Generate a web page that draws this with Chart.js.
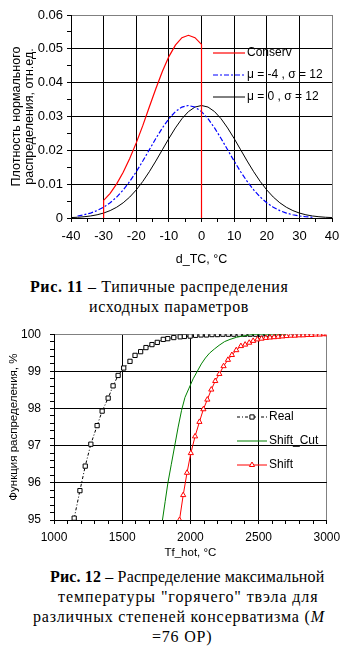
<!DOCTYPE html>
<html><head><meta charset="utf-8">
<script src="https://cdn.jsdelivr.net/npm/chart.js@4/dist/chart.umd.min.js"></script>
<style>
html,body{margin:0;padding:0;background:#fff;}
body{width:347px;height:648px;position:relative;overflow:hidden;}
canvas{position:absolute;left:0;}
.cap{position:absolute;font-family:'Liberation Serif','Times New Roman',serif;font-size:16px;line-height:20px;white-space:nowrap;color:#000;}
</style></head><body>
<canvas id="c1" width="347" height="272" style="top:0"></canvas>
<canvas id="c2" width="347" height="245" style="top:318px"></canvas>
<div class="cap" style="left:30px;top:277px;letter-spacing:0.6px"><b>Рис. 11</b> – Типичные распределения</div>
<div class="cap" style="left:89px;top:297px;letter-spacing:0.6px">исходных параметров</div>
<div class="cap" style="left:50px;top:567px;letter-spacing:0.15px"><b>Рис. 12</b> – Распределение максимальной</div>
<div class="cap" style="left:58px;top:587px;letter-spacing:0.9px">температуры "горячего" твэла для</div>
<div class="cap" style="left:33px;top:607px;letter-spacing:0.8px">различных степеней консерватизма (<i>M</i></div>
<div class="cap" style="left:152px;top:627px;letter-spacing:0.8px">=76 ОР)</div>
<script>
// ---------- Fig. 11 data ----------
const dtcMajorTicks = [-40, -30, -20, -10, 0, 10, 20, 30, 40];
const densityMajorTicks = [0, 0.01, 0.02, 0.03, 0.04, 0.05, 0.06];
const fig11Labels = ['Conserv', 'μ = -4 , σ = 12', 'μ = 0 , σ = 12'];

const conservX = [-30, -30, -28, -26, -24, -22, -20, -18, -16, -14, -12, -10, -8, -6, -4, -2, 0, 0];
const conservY = [0, 0.0052, 0.0073, 0.0101, 0.0135, 0.0176, 0.0222, 0.0273, 0.0328, 0.0382, 0.0433, 0.0477, 0.0511, 0.0533, 0.0540, 0.0533, 0.0513, 0];

const muM4X = [-38, -36, -34, -32, -30, -28, -26, -24, -22, -20, -18, -16, -14, -12, -10, -8, -6, -4, -2, 0, 2, 4, 6, 8, 10, 12, 14, 16, 18, 20, 22, 24, 26, 28, 30, 32, 34];
const muM4Y = [0.0006, 0.00095, 0.00146, 0.00219, 0.00318, 0.0045, 0.00619, 0.00829, 0.0108, 0.01367, 0.01683, 0.02017, 0.0235, 0.02662, 0.02934, 0.03145, 0.03279, 0.03325, 0.03279, 0.03145, 0.02934, 0.02662, 0.0235, 0.02017, 0.01683, 0.01367, 0.0108, 0.00829, 0.00619, 0.0045, 0.00318, 0.00219, 0.00146, 0.00095, 0.0006, 0.00037, 0.00022];

const mu0X = [-40, -38, -36, -34, -32, -30, -28, -26, -24, -22, -20, -18, -16, -14, -12, -10, -8, -6, -4, -2, 0, 2, 4, 6, 8, 10, 12, 14, 16, 18, 20, 22, 24, 26, 28, 30, 32, 34, 36, 38, 40];
const mu0Y = [0.00013, 0.00022, 0.00037, 0.0006, 0.00095, 0.00146, 0.00219, 0.00318, 0.0045, 0.00619, 0.00829, 0.0108, 0.01367, 0.01683, 0.02017, 0.0235, 0.02662, 0.02934, 0.03145, 0.03279, 0.03325, 0.03279, 0.03145, 0.02934, 0.02662, 0.0235, 0.02017, 0.01683, 0.01367, 0.0108, 0.00829, 0.00619, 0.0045, 0.00318, 0.00219, 0.00146, 0.00095, 0.0006, 0.00037, 0.00022, 0.00013];

// ---------- Fig. 12 data ----------
const tfMajorTicks = [1000, 1500, 2000, 2500, 3000];
const cdfMajorTicks = [95, 96, 97, 98, 99, 100];
const fig12Labels = ['Real', 'Shift_Cut', 'Shift'];

const realX = [1148, 1190, 1229, 1270, 1316, 1353, 1397, 1433, 1470, 1511, 1557, 1594, 1635, 1674, 1718, 1757, 1801, 1834, 1878, 1925, 1956, 1998, 2038, 2078, 2118, 2158, 2198, 2238, 2278, 2318, 2358, 2398, 2438, 2478, 2518, 2558, 2598, 2638, 2678, 2718];
const realY = [95.05, 95.79, 96.45, 97.04, 97.54, 97.93, 98.28, 98.61, 98.89, 99.09, 99.27, 99.43, 99.53, 99.64, 99.72, 99.78, 99.86, 99.88, 99.91, 99.93, 99.94, 99.95, 99.97, 99.98, 99.98, 99.99, 99.99, 100, 100, 100, 100, 100, 100, 100, 100, 100, 100, 100, 100, 100];

const shiftCutX = [1795, 1815, 1835, 1860, 1885, 1910, 1935, 1960, 1990, 2020, 2050, 2080, 2110, 2140, 2175, 2210, 2250, 2290, 2340, 2400, 2450, 2500, 2600, 2700];
const shiftCutY = [95.0, 95.5, 96.0, 96.5, 97.0, 97.5, 97.95, 98.3, 98.55, 98.8, 99.0, 99.2, 99.36, 99.49, 99.6, 99.7, 99.8, 99.86, 99.92, 99.96, 99.99, 100, 100, 100];

const shiftX = [1920, 1947, 1975, 2003, 2034, 2066, 2095, 2124, 2153, 2182, 2212, 2243, 2275, 2304, 2336, 2370, 2401, 2431, 2460, 2491, 2521, 2553, 2583, 2613, 2643, 2674, 2704, 2735, 2765, 2796, 2826, 2856, 2887, 2917, 2948, 2978, 3000];
const shiftY = [95.0, 95.67, 96.27, 96.8, 97.25, 97.64, 97.98, 98.24, 98.51, 98.74, 98.93, 99.14, 99.31, 99.44, 99.57, 99.68, 99.72, 99.77, 99.82, 99.86, 99.88, 99.9, 99.91, 99.92, 99.93, 99.94, 99.95, 99.96, 99.96, 99.97, 99.97, 99.98, 99.98, 99.99, 99.99, 100, 100];

// ---------- helpers ----------
const SANS = "'Liberation Sans',Arial,sans-serif";
function pts(xs, ys) { return xs.map((x, i) => ({x: x, y: ys[i]})); }
function isMajor(v, list) { return list.some(m => Math.abs(m - v) < 1e-7); }
function gridColor(list, max) {
  return (c) => {
    const v = c.tick ? c.tick.value : undefined;
    if (v === undefined) return '#000';
    if (Math.abs(v - max) < 1e-7) return '#808080';
    return isMajor(v, list) ? '#000' : 'rgba(0,0,0,0)';
  };
}

const insideLegend = {
  id: 'insideLegend',
  afterDatasetsDraw(chart, args, o) {
    const ctx = chart.ctx;
    ctx.save();
    chart.data.datasets.forEach((ds, i) => {
      const y = o.rows[i];
      ctx.strokeStyle = ds.borderColor;
      ctx.lineWidth = ds.borderWidth || 1;
      ctx.setLineDash(ds.borderDash || []);
      ctx.beginPath(); ctx.moveTo(o.x0, y); ctx.lineTo(o.x1, y); ctx.stroke();
      ctx.setLineDash([]);
      const r = ds.pointRadius || 0;
      if (r > 0) {
        const cx = (o.x0 + o.x1) / 2;
        ctx.fillStyle = ds.pointBackgroundColor || '#fff';
        ctx.strokeStyle = ds.pointBorderColor || ds.borderColor;
        ctx.lineWidth = 1;
        ctx.beginPath();
        if (ds.pointStyle === 'triangle') {
          ctx.moveTo(cx, y - r); ctx.lineTo(cx + r * 0.866, y + r / 2); ctx.lineTo(cx - r * 0.866, y + r / 2); ctx.closePath();
        } else {
          const s = r * 0.7071;
          ctx.rect(cx - s, y - s, 2 * s, 2 * s);
        }
        ctx.fill(); ctx.stroke();
      }
      ctx.fillStyle = '#000';
      ctx.font = o.fontSize + 'px ' + SANS;
      ctx.textBaseline = 'middle';
      ctx.textAlign = 'left';
      ctx.fillText(ds.label, o.tx, y);
    });
    ctx.restore();
  }
};

// ---------- Fig. 11 ----------
new Chart(document.getElementById('c1'), {
  type: 'line',
  plugins: [insideLegend],
  data: {
    datasets: [
      {label: fig11Labels[0], data: pts(conservX, conservY), borderColor: '#ff0000', borderWidth: 1.2, pointRadius: 0, tension: 0, fill: false},
      {label: fig11Labels[1], data: pts(muM4X, muM4Y), borderColor: '#0000ff', borderWidth: 1.2, borderDash: [5, 2, 2, 2], pointRadius: 0, tension: 0, fill: false},
      {label: fig11Labels[2], data: pts(mu0X, mu0Y), borderColor: '#000000', borderWidth: 1, pointRadius: 0, tension: 0, fill: false}
    ]
  },
  options: {
    responsive: false, animation: false, devicePixelRatio: 1, events: [],
    layout: {padding: {left: 0, top: 15, right: 15, bottom: 0}},
    plugins: {
      legend: {display: false}, tooltip: {enabled: false},
      insideLegend: {x0: 213, x1: 245, tx: 247, rows: [53, 75, 97], fontSize: 12}
    },
    scales: {
      x: {
        type: 'linear', min: -40, max: 40,
        ticks: {stepSize: 5, autoSkip: false, maxRotation: 0, maxTicksLimit: 1000, padding: 7, color: '#000',
          font: {family: SANS, size: 13},
          callback: (v) => isMajor(v, dtcMajorTicks) ? String(Math.round(v)) : ''},
        grid: {color: gridColor(dtcMajorTicks, 40), lineWidth: 1, tickColor: '#000', tickLength: 4},
        border: {display: true, color: '#000', width: 1},
        title: {display: true, text: 'd_TC, °C', color: '#000', font: {family: SANS, size: 12.5}, padding: {top: 0, bottom: 4.5}},
        afterFit: (s) => { s.height = 54; }
      },
      y: {
        type: 'linear', min: 0, max: 0.06,
        ticks: {stepSize: 0.005, autoSkip: false, maxTicksLimit: 1000, padding: 4, color: '#000',
          font: {family: SANS, size: 13},
          callback: (v) => isMajor(v, densityMajorTicks) ? (Math.abs(v) < 1e-9 ? '0' : v.toFixed(2)) : ''},
        grid: {color: gridColor(densityMajorTicks, 0.06), lineWidth: 1, tickColor: '#000', tickLength: 4},
        border: {display: true, color: '#000', width: 1},
        title: {display: true, text: ['Плотность нормального', 'распределения, отн.ед.'], color: '#000',
          font: {family: SANS, size: 12.5, lineHeight: 1.04}, padding: {top: 10.5, bottom: 0}},
        afterFit: (s) => { s.width = 71; }
      }
    }
  }
});

// ---------- Fig. 12 ----------
new Chart(document.getElementById('c2'), {
  type: 'line',
  plugins: [insideLegend],
  data: {
    datasets: [
      {label: fig12Labels[0], data: pts(realX, realY), borderColor: '#000000', borderWidth: 1, borderDash: [3, 2, 1, 2],
        pointStyle: 'rect', pointRadius: 3, pointBackgroundColor: '#ffffff', pointBorderColor: '#000000', pointBorderWidth: 1, tension: 0, fill: false, order: 2},
      {label: fig12Labels[1], data: pts(shiftCutX, shiftCutY), borderColor: '#008000', borderWidth: 1, pointRadius: 0, tension: 0, fill: false, order: 1},
      {label: fig12Labels[2], data: pts(shiftX, shiftY), borderColor: '#ff0000', borderWidth: 1,
        pointStyle: 'triangle', pointRadius: 3, pointBackgroundColor: '#ffffff', pointBorderColor: '#ff0000', pointBorderWidth: 1, tension: 0, fill: false, order: 0}
    ]
  },
  options: {
    responsive: false, animation: false, devicePixelRatio: 1, events: [],
    layout: {padding: {left: 0, top: 12, right: 19, bottom: 0}},
    plugins: {
      legend: {display: false}, tooltip: {enabled: false},
      insideLegend: {x0: 237, x1: 267, tx: 269, rows: [99, 123, 147], fontSize: 12}
    },
    scales: {
      x: {
        type: 'linear', min: 1000, max: 3000,
        ticks: {stepSize: 100, autoSkip: false, maxRotation: 0, maxTicksLimit: 1000, padding: 6.8, color: '#000',
          font: {family: SANS, size: 12},
          callback: (v) => isMajor(v, tfMajorTicks) ? String(Math.round(v)) : ''},
        grid: {color: gridColor(tfMajorTicks, 3000), lineWidth: 1, tickColor: '#000', tickLength: 4},
        border: {display: true, color: '#000', width: 1},
        title: {display: true, text: 'Tf_hot, °C', color: '#000', font: {family: SANS, size: 11.5}, padding: {top: 0, bottom: 3.1}},
        afterFit: (s) => { s.height = 43; }
      },
      y: {
        type: 'linear', min: 95, max: 100,
        ticks: {stepSize: 0.2, autoSkip: false, maxTicksLimit: 1000, padding: 9, color: '#000',
          font: {family: SANS, size: 12},
          callback: (v) => isMajor(v, cdfMajorTicks) ? String(Math.round(v)) : ''},
        grid: {color: gridColor(cdfMajorTicks, 100), lineWidth: 1, tickColor: '#000', tickLength: 4},
        border: {display: true, color: '#000', width: 1},
        title: {display: true, text: 'Функция распределения, %', color: '#000',
          font: {family: SANS, size: 11.5}, padding: {top: 7.1, bottom: 0}},
        afterFit: (s) => { s.width = 54; }
      }
    }
  }
});
</script>
</body></html>
